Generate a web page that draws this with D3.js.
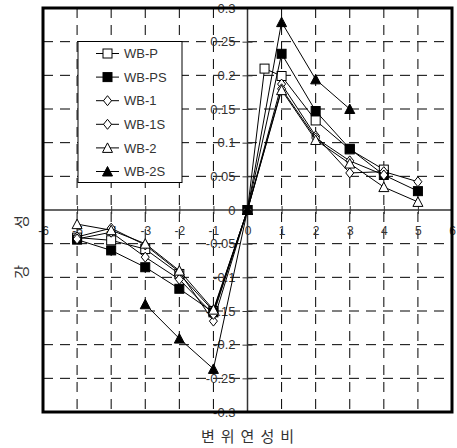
<!DOCTYPE html>
<html>
<head>
<meta charset="utf-8">
<script src="https://cdn.jsdelivr.net/npm/d3@7/dist/d3.min.js"></script>
<style>
  html, body { margin: 0; padding: 0; background: #fff; }
  svg { display: block; }
  .tick text { font-family: "Liberation Sans", Arial, sans-serif; font-size: 12px; fill: #333; }
  .yaxis .tick text { font-size: 13px; }
</style>
</head>
<body>
<svg id="chart" width="457" height="448"></svg>
<script>
// Ductility ratio (x) vs. stiffness (y) for each specimen
const seriesNames = ["WB-P", "WB-PS", "WB-1", "WB-1S", "WB-2", "WB-2S"];
const seriesSymbols = ["squareOpen", "squareFilled", "diamondOpen", "diamondOpen", "triangleOpen", "triangleFilled"];

const wbP_x  = [-5, -4, -3, -2, -1, 0, 0.5, 1, 2, 3, 4];
const wbP_y  = [-0.041, -0.045, -0.058, -0.095, -0.150, 0, 0.210, 0.199, 0.133, 0.090, 0.060];
const wbPS_x = [-5, -4, -3, -2, -1, 0, 1, 2, 3, 4, 5];
const wbPS_y = [-0.044, -0.060, -0.085, -0.117, -0.152, 0, 0.232, 0.147, 0.091, 0.052, 0.028];
const wb1_x  = [-5, -4, -3, -2, -1, 0, 1, 2, 3, 4, 5];
const wb1_y  = [-0.040, -0.027, -0.052, -0.092, -0.165, 0, 0.187, 0.110, 0.055, 0.057, 0.042];
const wb1S_x = [-5, -4, -3, -2, -1, 0, 1, 2, 3, 4];
const wb1S_y = [-0.043, -0.033, -0.070, -0.103, -0.155, 0, 0.180, 0.107, 0.073, 0.052];
const wb2_x  = [-5, -4, -3, -2, -1, 0, 1, 2, 3, 4, 5];
const wb2_y  = [-0.021, -0.030, -0.050, -0.090, -0.148, 0, 0.178, 0.104, 0.069, 0.034, 0.012];
const wb2S_x = [-3, -2, -1, 0, 1, 2, 3];
const wb2S_y = [-0.140, -0.191, -0.236, 0, 0.279, 0.194, 0.150];

const xTicks = [-6, -5, -4, -3, -2, -1, 0, 1, 2, 3, 4, 5, 6];
const yTicks = [-0.3, -0.25, -0.2, -0.15, -0.1, -0.05, 0, 0.05, 0.1, 0.15, 0.2, 0.25, 0.3];

const xTitle = "변위연성비";
const yTitle = "강성";

const seriesX = [wbP_x, wbPS_x, wb1_x, wb1S_x, wb2_x, wb2S_x];
const seriesY = [wbP_y, wbPS_y, wb1_y, wb1S_y, wb2_y, wb2S_y];
const series = seriesNames.map((name, i) => ({
  name,
  symbol: seriesSymbols[i],
  points: seriesX[i].map((xv, j) => ({ x: xv, y: seriesY[i][j] }))
}));

const svg = d3.select("#chart");
const plotLeft = 43, plotRight = 452, plotTop = 8, plotBottom = 412;

const x = d3.scaleLinear().domain([-6, 6]).range([plotLeft, plotRight]);
const y = d3.scaleLinear().domain([-0.3, 0.3]).range([plotBottom, plotTop]);

// dashed grid
const grid = svg.append("g").attr("stroke", "#000").attr("stroke-width", 1)
  .attr("stroke-dasharray", "10,7").attr("fill", "none");
grid.selectAll("line.vx").data(xTicks.filter(v => v !== 0 && Math.abs(v) !== 6)).join("line")
  .attr("class", "vx")
  .attr("x1", d => x(d)).attr("x2", d => x(d)).attr("y1", plotTop).attr("y2", plotBottom);
grid.selectAll("line.hy").data(yTicks.filter(v => v !== 0 && Math.abs(v) !== 0.3)).join("line")
  .attr("class", "hy")
  .attr("x1", plotLeft).attr("x2", plotRight).attr("y1", d => y(d)).attr("y2", d => y(d));

// axes through the origin
svg.append("line").attr("x1", plotLeft).attr("x2", plotRight).attr("y1", y(0)).attr("y2", y(0))
  .attr("stroke", "#333").attr("stroke-width", 1.5);
svg.append("line").attr("x1", x(0)).attr("x2", x(0)).attr("y1", plotTop).attr("y2", plotBottom)
  .attr("stroke", "#333").attr("stroke-width", 1.5);

const xAxis = svg.append("g").attr("transform", `translate(0,${y(0)})`)
  .call(d3.axisBottom(x).tickValues(xTicks).tickFormat(d3.format("d")).tickSize(4).tickPadding(12));
xAxis.select(".domain").remove();
xAxis.selectAll(".tick line").attr("y1", -4).attr("y2", 4).attr("stroke", "#333");
xAxis.selectAll(".tick text").text(d => d < 0 ? "-" + Math.abs(d) : String(d));

const yAxis = svg.append("g").attr("class", "yaxis").attr("transform", `translate(${x(0)},0)`)
  .call(d3.axisLeft(y).tickValues(yTicks).tickSize(5).tickPadding(7)
    .tickFormat(d => d === 0 ? "0" : (d < 0 ? "-" : "") + String(+Math.abs(d).toFixed(2))));
yAxis.select(".domain").remove();
yAxis.selectAll(".tick line").attr("x1", -5).attr("x2", 5).attr("stroke", "#333");

// frame
svg.append("rect").attr("x", plotLeft).attr("y", plotTop)
  .attr("width", plotRight - plotLeft).attr("height", plotBottom - plotTop)
  .attr("fill", "none").attr("stroke", "#000").attr("stroke-width", 3);

// marker shapes
function marker(g, kind) {
  if (kind.startsWith("square")) {
    g.append("rect").attr("x", -4.5).attr("y", -4.5).attr("width", 9).attr("height", 9)
      .attr("fill", kind === "squareFilled" ? "#000" : "#fff").attr("stroke", "#000").attr("stroke-width", 1);
  } else if (kind.startsWith("diamond")) {
    g.append("path").attr("d", "M0,-5L4,0L0,5L-4,0Z")
      .attr("fill", "#fff").attr("stroke", "#000").attr("stroke-width", 1);
  } else {
    g.append("path").attr("d", "M0,-5L5,4.5L-5,4.5Z")
      .attr("fill", kind === "triangleFilled" ? "#000" : "#fff").attr("stroke", "#000").attr("stroke-width", 1);
  }
}

const line = d3.line().x(d => x(d.x)).y(d => y(d.y));
const plot = svg.append("g");
series.forEach(s => {
  const g = plot.append("g");
  g.append("path").datum(s.points).attr("d", line)
    .attr("fill", "none").attr("stroke", "#000").attr("stroke-width", 1);
  g.selectAll("g.m").data(s.points).join("g")
    .attr("class", "m")
    .attr("transform", d => `translate(${x(d.x)},${y(d.y)})`)
    .each(function () { marker(d3.select(this), s.symbol); });
});

// legend
const lg = svg.append("g");
lg.append("rect").attr("x", 78).attr("y", 41.5).attr("width", 104).attr("height", 141)
  .attr("fill", "#fff").attr("stroke", "#000").attr("stroke-width", 1);
series.forEach((s, i) => {
  const cy = 53.5 + i * 23.6;
  lg.append("line").attr("x1", 96).attr("x2", 119).attr("y1", cy).attr("y2", cy)
    .attr("stroke", "#000").attr("stroke-width", 1);
  marker(lg.append("g").attr("transform", `translate(107.5,${cy})`), s.symbol);
  lg.append("text").attr("x", 124).attr("y", cy).attr("dy", "0.36em")
    .attr("font-family", "Liberation Sans, Arial, sans-serif").attr("font-size", 13)
    .attr("fill", "#333").text(s.name);
});

// axis titles
svg.append("text").attr("x", 247.5 + 3).attr("y", 442)
  .attr("text-anchor", "middle").attr("font-family", "Noto Sans CJK KR, sans-serif")
  .attr("font-size", 15).attr("letter-spacing", 6).attr("fill", "#333").text(xTitle);
svg.append("text").attr("transform", `translate(27,${y(0) + 19}) rotate(-90)`)
  .attr("text-anchor", "middle").attr("font-family", "Noto Sans CJK KR, sans-serif")
  .attr("font-size", 15).attr("letter-spacing", 36).attr("fill", "#333").text(yTitle);
</script>
</body>
</html>
